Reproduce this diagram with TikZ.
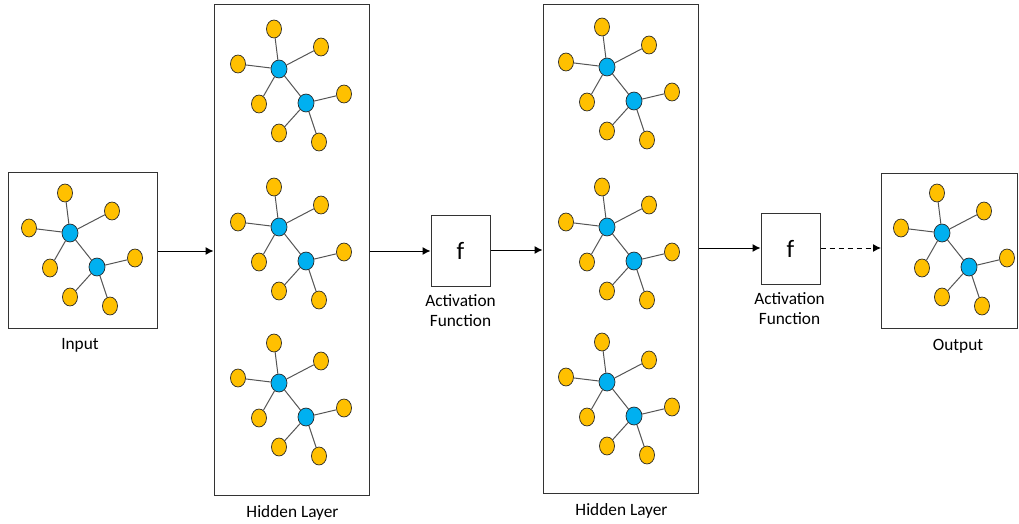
\documentclass[tikz,border=0pt]{standalone}
\usepackage{fontspec}
\setmainfont{Carlito}
\usetikzlibrary{shapes.geometric,arrows.meta}

\definecolor{leafgold}{HTML}{FFC000}
\definecolor{hubblue}{HTML}{00B0F0}
\definecolor{edgegray}{HTML}{555555}
\definecolor{framegray}{HTML}{333333}

\tikzset{
  leaf/.style={ellipse, draw=black!85, line width=0.7pt, fill=leafgold,
    minimum width=15pt, minimum height=18pt, inner sep=0pt},
  hub/.style={ellipse, draw=black!85, line width=0.7pt, fill=hubblue,
    minimum width=16pt, minimum height=18pt, inner sep=0pt},
  link/.style={draw=edgegray, line width=1pt},
  frame/.style={draw=framegray, line width=1pt},
  fbox/.style={draw=framegray, line width=1pt, minimum width=59pt,
    minimum height=71pt, inner sep=0pt, font=\fontsize{25}{29}\selectfont},
  caption/.style={font=\fontsize{17.3}{20}\selectfont, align=center, inner sep=0pt},
  flow/.style={draw=black, line width=1pt, -{Latex[length=8pt,width=8pt]}},
  pics/cluster/.style={code={
    \node[hub]  (-a) at (0,0) {};
    \node[hub]  (-b) at (27,34) {};
    \node[leaf] (-t)  at (-5,-40) {};
    \node[leaf] (-ur) at (42,-22) {};
    \node[leaf] (-l)  at (-41,-5) {};
    \node[leaf] (-ll) at (-20,35) {};
    \node[leaf] (-r)  at (65,25) {};
    \node[leaf] (-bl) at (0,64) {};
    \node[leaf] (-br) at (40,73) {};
    \draw[link] (-a) -- (-t);
    \draw[link] (-a) -- (-ur);
    \draw[link] (-a) -- (-l);
    \draw[link] (-a) -- (-ll);
    \draw[link] (-a) -- (-b);
    \draw[link] (-b) -- (-r);
    \draw[link] (-b) -- (-bl);
    \draw[link] (-b) -- (-br);
  }}
}

\begin{document}
\begin{tikzpicture}[x=1pt, y=-1pt]
  \useasboundingbox (0,0) rectangle (1019,524);

  % layer frames
  \node[frame, minimum width=149pt, minimum height=156pt, inner sep=0pt] (inbox) at (82.5,250) {};
  \node[frame, minimum width=155pt, minimum height=490pt, inner sep=0pt] (hidA) at (291.5,250) {};
  \node[frame, minimum width=155pt, minimum height=488pt, inner sep=0pt] (hidB) at (620.5,249) {};
  \node[frame, minimum width=136pt, minimum height=155pt, inner sep=0pt] (outbox) at (949.5,250.5) {};

  % activation boxes
  \node[fbox] (actA) at (460.5,250.5) {f};
  \node[fbox] (actB) at (790.5,249) {f};

  % node clusters
  \pic (cin) at (70,233) {cluster};
  \pic (h1a) at (279,69) {cluster};
  \pic (h1b) at (279,227) {cluster};
  \pic (h1c) at (279,383) {cluster};
  \pic (h2a) at (607,67) {cluster};
  \pic (h2b) at (607,227) {cluster};
  \pic (h2c) at (607,382) {cluster};
  \pic (cout) at (942,233) {cluster};

  % captions
  \node[caption] (capIn) at (80,345) {Input};
  \node[caption] (capA) at (292.5,513) {Hidden Layer};
  \node[caption] (capB) at (621.5,511) {Hidden Layer};
  \node[caption] (capOut) at (958,346) {Output};
  \node[caption, anchor=north] (capActA) at (460.5,294) {Activation\\Function};
  \node[caption, anchor=north] (capActB) at (789.5,292) {Activation\\Function};

  % data flow
  \draw[flow] (inbox.east |- 0,251) -- (hidA.west |- 0,251);
  \draw[flow] (hidA.east |- 0,251) -- (actA.west |- 0,251);
  \draw[flow] (actA.east |- 0,250) -- (hidB.west |- 0,250);
  \draw[flow] (hidB.east |- 0,248) -- (actB.west |- 0,248);
  \draw[flow, dashed, dash pattern=on 5pt off 4pt] (actB.east |- 0,248) -- (outbox.west |- 0,248);
\end{tikzpicture}
\end{document}
